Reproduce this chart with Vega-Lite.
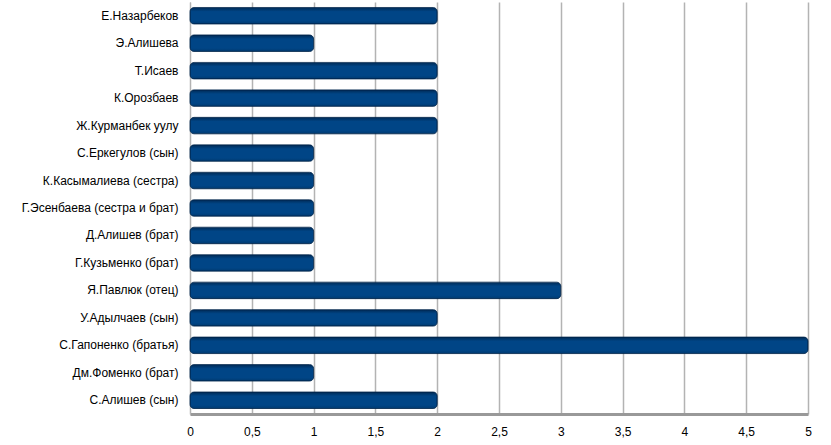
{
  "$schema": "https://vega.github.io/schema/vega-lite/v6.json",
  "autosize": "none",
  "width": 618,
  "height": 412,
  "padding": {"left": 190, "top": 2, "right": 23, "bottom": 31},
  "background": "white",
  "config": {"view": {"stroke": null}, "font": "Liberation Sans"},
  "data": {"values": [
    {"name": "Е.Назарбеков", "value": 2},
    {"name": "Э.Алишева\u00a0", "value": 1},
    {"name": "Т.Исаев", "value": 2},
    {"name": "К.Орозбаев\u00a0", "value": 2},
    {"name": "Ж.Курманбек уулу", "value": 2},
    {"name": "С.Еркегулов (сын)", "value": 1},
    {"name": "К.Касымалиева (сестра)", "value": 1},
    {"name": "Г.Эсенбаева (сестра и брат)", "value": 1},
    {"name": "Д.Алишев (брат)", "value": 1},
    {"name": "Г.Кузьменко (брат)", "value": 1},
    {"name": "Я.Павлюк (отец)", "value": 3},
    {"name": "У.Адылчаев (сын)", "value": 2},
    {"name": "С.Гапоненко (братья)", "value": 5},
    {"name": "Дм.Фоменко (брат)", "value": 1},
    {"name": "С.Алишев (сын)", "value": 2}
  ]},
  "layer": [
    {
      "mark": {
        "type": "bar",
        "cornerRadius": 4,
        "stroke": "#00264d",
        "strokeWidth": 0.8,
        "color": {
          "x1": 0, "y1": 0, "x2": 0, "y2": 1,
          "gradient": "linear",
          "stops": [
            {"offset": 0, "color": "#002a55"},
            {"offset": 0.25, "color": "#004586"},
            {"offset": 0.8, "color": "#004586"},
            {"offset": 1, "color": "#003a70"}
          ]
        }
      },
      "encoding": {
        "y": {
          "field": "name", "type": "nominal", "sort": null,
          "scale": {"paddingInner": 0.4, "paddingOuter": 0.2},
          "axis": {
            "title": null, "ticks": false, "labelPadding": 12, "labelFontSize": 12,
            "labelColor": "#000000", "domainColor": "#b3b3b3", "grid": false, "labelLimit": 200
          }
        },
        "x": {
          "field": "value", "type": "quantitative",
          "scale": {"domain": [0, 5], "nice": false},
          "axis": {
            "title": null, "values": [0, 0.5, 1, 1.5, 2, 2.5, 3, 3.5, 4, 4.5, 5],
            "format": "~g",
            "labelExpr": "replace(datum.label, '.', ',')",
            "ticks": false, "labelPadding": 12, "labelFontSize": 12, "labelColor": "#000000",
            "grid": true, "gridColor": "#b3b3b3", "gridWidth": 1.5, "domainColor": "#999999", "domainWidth": 3,
            "labelFlush": false
          }
        }
      }
    }
  ]
}
